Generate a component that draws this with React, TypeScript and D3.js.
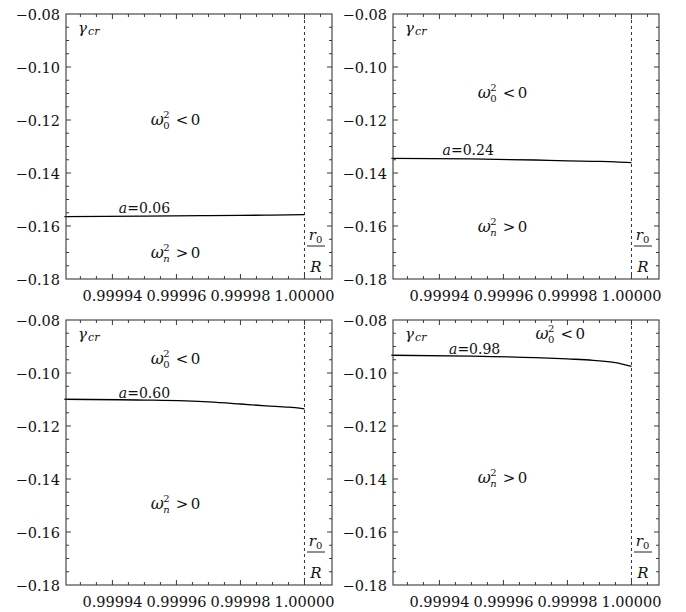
import React from "react";
import * as d3 from "d3";

// ---- data ----
const xValues = [0.999925, 0.99995, 0.99997, 0.99998, 0.999988, 0.999995, 1.0];
const gammaA006 = [-0.1565, -0.1563, -0.1561, -0.156, -0.1559, -0.1558, -0.1557];
const gammaA024 = [-0.1345, -0.1347, -0.1351, -0.1354, -0.1356, -0.1358, -0.1361];
const gammaA060 = [-0.1099, -0.1102, -0.1109, -0.1117, -0.1124, -0.1129, -0.1135];
const gammaA098 = [-0.0933, -0.0936, -0.0942, -0.0947, -0.0952, -0.0961, -0.0975];
const seriesLabels = ["a=0.06", "a=0.24", "a=0.60", "a=0.98"];
const seriesValues = [gammaA006, gammaA024, gammaA060, gammaA098];
// label anchors in data coordinates [x, y]
const aLabelPos = [
  [0.999942, -0.1551],
  [0.999941, -0.1332],
  [0.999942, -0.1093],
  [0.999943, -0.0929],
];
const omega0Pos = [
  [0.999952, -0.1219],
  [0.999952, -0.1117],
  [0.999952, -0.0967],
  [0.99997, -0.0873],
];
const omegaNPos = [
  [0.999952, -0.1721],
  [0.999952, -0.1623],
  [0.999952, -0.1514],
  [0.999952, -0.1414],
];
const xTickValues = [0.99994, 0.99996, 0.99998, 1.0];
const xTickLabels = ["0.99994", "0.99996", "0.99998", "1.00000"];
const yTickValues = [-0.18, -0.16, -0.14, -0.12, -0.1, -0.08];
const yTickLabels = ["\u22120.18", "\u22120.16", "\u22120.14", "\u22120.12", "\u22120.10", "\u22120.08"];
const xDomain = [0.9999255, 1.0000086];
const yDomain = [-0.18, -0.08];
const criticalX = 1.0;

// ---- layout ----
const W = 686;
const H = 612;
const PW = 266;
const PH = 265;
const panelOrigins = [
  [66, 14],
  [393, 14],
  [66, 320],
  [393, 320],
];
const FONT = "'DejaVu Serif', serif";
const FRAME = "#3a3a3a";

const xMinor = d3.range(0, 18).map((i) => 0.999925 + i * 0.000005);
const yMinor = d3.range(0, 21).map((i) => -0.18 + i * 0.005);

function Omega({ x, y, sub, rel }: { x: number; y: number; sub: string; rel: string }) {
  return (
    <g transform={`translate(${x},${y})`} fontFamily={FONT} fill="#111">
      <text x={0} y={0} fontSize={16} fontStyle="italic">ω</text>
      <text x={12.5} y={-7} fontSize={10}>2</text>
      <text x={12.5} y={4} fontSize={10} fontStyle={sub === "n" ? "italic" : "normal"}>{sub}</text>
      <text x={25} y={0} fontSize={15}>{rel}</text>
      <text x={40} y={0} fontSize={15}>0</text>
    </g>
  );
}

function Panel({ idx }: { idx: number }) {
  const [ox, oy] = panelOrigins[idx];
  const x = d3.scaleLinear().domain(xDomain).range([0, PW]);
  const y = d3.scaleLinear().domain(yDomain).range([PH, 0]);
  const pts = xValues.map((xv, i) => [xv, seriesValues[idx][i]] as [number, number]);
  const line = d3
    .line<[number, number]>()
    .x((d) => x(d[0]))
    .y((d) => y(d[1]))
    .curve(d3.curveMonotoneX);
  const isMajX = (v: number) => xTickValues.some((t) => Math.abs(t - v) < 1e-9);
  const isMajY = (v: number) => yTickValues.some((t) => Math.abs(t - v) < 1e-9);
  const cx = x(criticalX);
  return (
    <g transform={`translate(${ox},${oy})`}>
      {xMinor.filter((v) => x(v) > 0.5 && x(v) < PW - 0.5).map((v, i) => {
        const L = isMajX(v) ? 5 : 3;
        const px = x(v);
        return (
          <g key={"xt" + i} stroke={FRAME} strokeWidth={1}>
            <line x1={px} x2={px} y1={PH} y2={PH - L} />
            <line x1={px} x2={px} y1={0} y2={L} />
          </g>
        );
      })}
      {yMinor.filter((v) => y(v) > 0.5 && y(v) < PH - 0.5).map((v, i) => {
        const L = isMajY(v) ? 5 : 3;
        const py = y(v);
        return (
          <g key={"yt" + i} stroke={FRAME} strokeWidth={1}>
            <line x1={0} x2={L} y1={py} y2={py} />
            <line x1={PW} x2={PW - L} y1={py} y2={py} />
          </g>
        );
      })}
      <line x1={cx} x2={cx} y1={0} y2={PH} stroke="#333" strokeWidth={1} strokeDasharray="3,3" />
      <path d={line(pts) || ""} fill="none" stroke="#000" strokeWidth={1.3} />
      <rect x={0} y={0} width={PW} height={PH} fill="none" stroke={FRAME} strokeWidth={1.1} />
      {xTickValues.map((v, i) => (
        <text key={"xl" + i} x={x(v)} y={PH + 22} textAnchor="middle" fontFamily={FONT} fontSize={14.5} fill="#111">
          {xTickLabels[i]}
        </text>
      ))}
      {yTickValues.map((v, i) => (
        <text key={"yl" + i} x={-6} y={y(v) + 5.5} textAnchor="end" fontFamily={FONT} fontSize={14.5} fill="#111">
          {yTickLabels[i]}
        </text>
      ))}
      <g fontFamily={FONT} fill="#111">
        <text x={12} y={19} fontSize={15} fontStyle="italic">γ</text>
        <text x={22} y={21} fontSize={11} fontStyle="italic">cr</text>
      </g>
      <g fontFamily={FONT} fill="#111">
        <text x={PW - 16} y={PH - 39} fontSize={15} fontStyle="italic" textAnchor="end">r</text>
        <text x={PW - 16} y={PH - 36} fontSize={10}>0</text>
        <line x1={PW - 25} x2={PW - 7} y1={PH - 33} y2={PH - 33} stroke="#222" strokeWidth={1} />
        <text x={PW - 16} y={PH - 7} fontSize={15} fontStyle="italic" textAnchor="middle">R</text>
      </g>
      <text x={x(aLabelPos[idx][0])} y={y(aLabelPos[idx][1])} fontFamily={FONT} fontSize={14} fill="#111">
        <tspan fontStyle="italic">a</tspan>
        {seriesLabels[idx].slice(1)}
      </text>
      <Omega x={x(omega0Pos[idx][0])} y={y(omega0Pos[idx][1])} sub="0" rel="<" />
      <Omega x={x(omegaNPos[idx][0])} y={y(omegaNPos[idx][1])} sub="n" rel=">" />
    </g>
  );
}

export default function App() {
  return (
    <svg
      width={W}
      height={H}
      viewBox={`0 0 ${W} ${H}`}
      style={{ position: "absolute", left: 0, top: 0, background: "#fff" }}
    >
      <rect width={W} height={H} fill="#fff" />
      {[0, 1, 2, 3].map((i) => (
        <Panel key={i} idx={i} />
      ))}
    </svg>
  );
}
